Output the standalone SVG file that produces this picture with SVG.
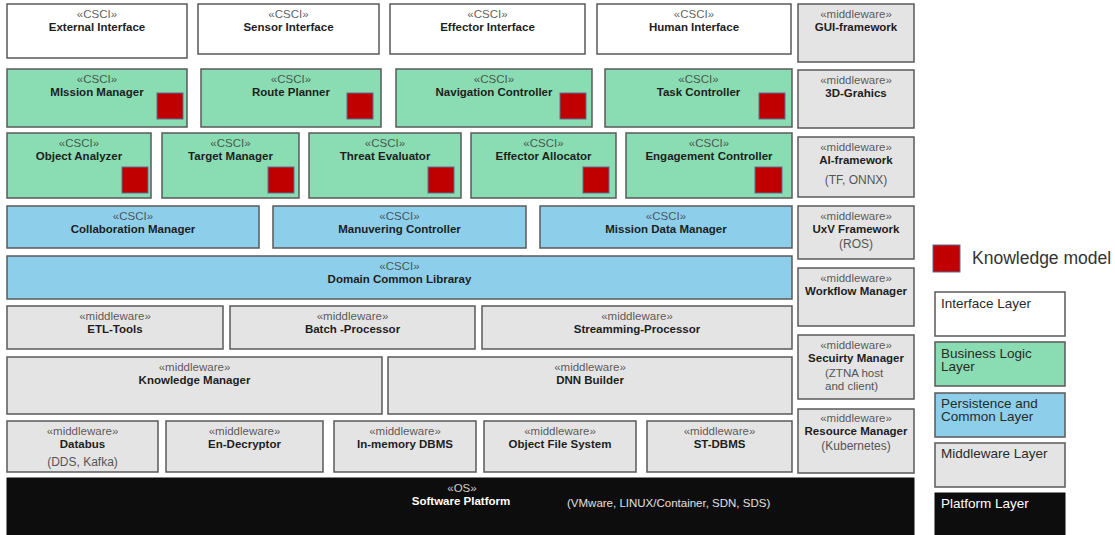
<svg xmlns="http://www.w3.org/2000/svg" width="1115" height="535" viewBox="0 0 1115 535">
  <style>
    .box{stroke:#595959;stroke-width:1.5}
    .ui{fill:#ffffff}
    .bl{fill:#8adcb2}
    .pc{fill:#8dcfeb}
    .mw{fill:#e5e4e4}
    .pf{fill:#0d0d0d;stroke:#0d0d0d}
    .km{fill:#c00000;stroke:#5b6f94;stroke-width:1}
    text{font-family:"Liberation Sans",Arial,Helvetica,sans-serif;font-size:11.5px;text-anchor:middle}
    .st{fill:#333333;fill-opacity:.8}
    .nm{font-weight:bold;fill:#1e1e1e}
    .sub{fill:#555555;font-size:12px}
    .lg{font-size:13.5px;text-anchor:start;fill:#2a2a2a}
  </style>

  <rect width="1115" height="535" fill="#ffffff"/>

  <!-- Interface layer -->
  <g id="external-interface"><rect class="box ui" x="7" y="4" width="180" height="54"/><text class="st" x="97" y="17.5">«CSCI»</text><text class="nm" x="97" y="30.5">External Interface</text></g>
  <g id="sensor-interface"><rect class="box ui" x="198" y="4" width="181" height="50"/><text class="st" x="288.5" y="17.5">«CSCI»</text><text class="nm" x="288.5" y="30.5">Sensor Interface</text></g>
  <g id="effector-interface"><rect class="box ui" x="390" y="4" width="195" height="50"/><text class="st" x="487.5" y="17.5">«CSCI»</text><text class="nm" x="487.5" y="30.5">Effector Interface</text></g>
  <g id="human-interface"><rect class="box ui" x="597" y="4" width="194" height="50"/><text class="st" x="694" y="17.5">«CSCI»</text><text class="nm" x="694" y="30.5">Human Interface</text></g>

  <!-- Business logic layer, upper row -->
  <g id="mission-manager"><rect class="box bl" x="7" y="69" width="180" height="58"/><text class="st" x="97" y="82.5">«CSCI»</text><text class="nm" x="97" y="95.5">MIssion Manager</text><rect class="km" x="157" y="93" width="26" height="26"/></g>
  <g id="route-planner"><rect class="box bl" x="201" y="69" width="180" height="58"/><text class="st" x="291" y="82.5">«CSCI»</text><text class="nm" x="291" y="95.5">Route Planner</text><rect class="km" x="347" y="93" width="26" height="26"/></g>
  <g id="navigation-controller"><rect class="box bl" x="396" y="69" width="196" height="58"/><text class="st" x="494" y="82.5">«CSCI»</text><text class="nm" x="494" y="95.5">Navigation Controller</text><rect class="km" x="560" y="93" width="26" height="26"/></g>
  <g id="task-controller"><rect class="box bl" x="605" y="69" width="187" height="58"/><text class="st" x="698.5" y="82.5">«CSCI»</text><text class="nm" x="698.5" y="95.5">Task Controller</text><rect class="km" x="759" y="93" width="26" height="26"/></g>

  <!-- Business logic layer, lower row -->
  <g id="object-analyzer"><rect class="box bl" x="7" y="133" width="144" height="65"/><text class="st" x="79" y="146.5">«CSCI»</text><text class="nm" x="79" y="159.5">Object Analyzer</text><rect class="km" x="122" y="167" width="26" height="26"/></g>
  <g id="target-manager"><rect class="box bl" x="162" y="133" width="137" height="65"/><text class="st" x="230.5" y="146.5">«CSCI»</text><text class="nm" x="230.5" y="159.5">Target Manager</text><rect class="km" x="268" y="167" width="26" height="26"/></g>
  <g id="threat-evaluator"><rect class="box bl" x="309" y="133" width="152" height="65"/><text class="st" x="385" y="146.5">«CSCI»</text><text class="nm" x="385" y="159.5">Threat Evaluator</text><rect class="km" x="428" y="167" width="26" height="26"/></g>
  <g id="effector-allocator"><rect class="box bl" x="471" y="133" width="145" height="65"/><text class="st" x="543.5" y="146.5">«CSCI»</text><text class="nm" x="543.5" y="159.5">Effector Allocator</text><rect class="km" x="583" y="167" width="26" height="26"/></g>
  <g id="engagement-controller"><rect class="box bl" x="626" y="133" width="166" height="65"/><text class="st" x="709" y="146.5">«CSCI»</text><text class="nm" x="709" y="159.5">Engagement Controller</text><rect class="km" x="755" y="167" width="27" height="26"/></g>

  <!-- Persistence and common layer -->
  <g id="collaboration-manager"><rect class="box pc" x="7" y="206" width="252" height="42"/><text class="st" x="133" y="219.5">«CSCI»</text><text class="nm" x="133" y="232.5">Collaboration Manager</text></g>
  <g id="manuvering-controller"><rect class="box pc" x="273" y="206" width="253" height="42"/><text class="st" x="399.5" y="219.5">«CSCI»</text><text class="nm" x="399.5" y="232.5">Manuvering Controller</text></g>
  <g id="mission-data-manager"><rect class="box pc" x="540" y="206" width="252" height="42"/><text class="st" x="666" y="219.5">«CSCI»</text><text class="nm" x="666" y="232.5">Mission Data Manager</text></g>
  <g id="domain-common-library"><rect class="box pc" x="7" y="256" width="785" height="43"/><text class="st" x="399.5" y="269.5">«CSCI»</text><text class="nm" x="399.5" y="282.5">Domain Common Libraray</text></g>

  <!-- Middleware layer -->
  <g id="etl-tools"><rect class="box mw" x="7" y="306" width="216" height="43"/><text class="st" x="115" y="319.5">«middleware»</text><text class="nm" x="115" y="332.5">ETL-Tools</text></g>
  <g id="batch-processor"><rect class="box mw" x="230" y="306" width="245" height="43"/><text class="st" x="352.5" y="319.5">«middleware»</text><text class="nm" x="352.5" y="332.5">Batch -Processor</text></g>
  <g id="streamming-processor"><rect class="box mw" x="482" y="306" width="310" height="43"/><text class="st" x="637" y="319.5">«middleware»</text><text class="nm" x="637" y="332.5">Streamming-Processor</text></g>
  <g id="knowledge-manager"><rect class="box mw" x="7" y="357" width="375" height="57"/><text class="st" x="194.5" y="370.5">«middleware»</text><text class="nm" x="194.5" y="383.5">Knowledge Manager</text></g>
  <g id="dnn-builder"><rect class="box mw" x="388" y="357" width="404" height="57"/><text class="st" x="590" y="370.5">«middleware»</text><text class="nm" x="590" y="383.5">DNN Builder</text></g>
  <g id="databus"><rect class="box mw" x="7" y="421" width="151" height="51"/><text class="st" x="82.5" y="434.5">«middleware»</text><text class="nm" x="82.5" y="447.5">Databus</text><text class="sub" x="82.5" y="465.5">(DDS, Kafka)</text></g>
  <g id="en-decryptor"><rect class="box mw" x="166" y="421" width="157" height="51"/><text class="st" x="244.5" y="434.5">«middleware»</text><text class="nm" x="244.5" y="447.5">En-Decryptor</text></g>
  <g id="in-memory-dbms"><rect class="box mw" x="334" y="421" width="142" height="51"/><text class="st" x="405" y="434.5">«middleware»</text><text class="nm" x="405" y="447.5">In-memory DBMS</text></g>
  <g id="object-file-system"><rect class="box mw" x="484" y="421" width="152" height="51"/><text class="st" x="560" y="434.5">«middleware»</text><text class="nm" x="560" y="447.5">Object File System</text></g>
  <g id="st-dbms"><rect class="box mw" x="647" y="421" width="145" height="51"/><text class="st" x="719.5" y="434.5">«middleware»</text><text class="nm" x="719.5" y="447.5">ST-DBMS</text></g>

  <!-- Cross-cutting middleware column -->
  <g id="gui-framework"><rect class="box mw" x="798" y="4" width="116" height="58"/><text class="st" x="856" y="17.5">«middleware»</text><text class="nm" x="856" y="30.5">GUI-framework</text></g>
  <g id="3d-graphics"><rect class="box mw" x="798" y="70" width="116" height="58"/><text class="st" x="856" y="83.5">«middleware»</text><text class="nm" x="856" y="96.5">3D-Grahics</text></g>
  <g id="ai-framework"><rect class="box mw" x="798" y="137" width="116" height="60"/><text class="st" x="856" y="150.5">«middleware»</text><text class="nm" x="856" y="163.5">AI-framework</text><text class="sub" x="856" y="184">(TF, ONNX)</text></g>
  <g id="uxv-framework"><rect class="box mw" x="798" y="206" width="116" height="53"/><text class="st" x="856" y="219.5">«middleware»</text><text class="nm" x="856" y="232.5">UxV Framework</text><text class="sub" x="856" y="248">(ROS)</text></g>
  <g id="workflow-manager"><rect class="box mw" x="798" y="268" width="116" height="58"/><text class="st" x="856" y="281.5">«middleware»</text><text class="nm" x="856" y="294.5">Workflow Manager</text></g>
  <g id="security-manager"><rect class="box mw" x="798" y="335" width="116" height="64"/><text class="st" x="856" y="348.5">«middleware»</text><text class="nm" x="856" y="361.5">Secuirty Manager</text><text class="sub" x="825" y="376.5" style="text-anchor:start;font-size:11.5px">(ZTNA host</text><text class="sub" x="825" y="389.5" style="text-anchor:start;font-size:11.5px">and client)</text></g>
  <g id="resource-manager"><rect class="box mw" x="798" y="409" width="116" height="64"/><text class="st" x="856" y="422">«middleware»</text><text class="nm" x="856" y="435">Resource Manager</text><text class="sub" x="856" y="450">(Kubernetes)</text></g>

  <!-- Platform layer -->
  <g id="software-platform"><rect class="pf" x="7" y="478" width="907" height="62"/><text x="462" y="492" fill="#cfcfcf">«OS»</text><text class="nm" x="461" y="505" style="fill:#ffffff">Software Platform</text><text x="567" y="507" fill="#e0e0e0" style="text-anchor:start">(VMware, LINUX/Container, SDN, SDS)</text></g>

  <!-- No connectors in this layered view -->
  <g id="connectors"/>

  <!-- Legend -->
  <g id="legend">
    <rect class="km" x="933" y="245" width="27" height="27"/>
    <text x="972" y="264" style="text-anchor:start;font-size:17.5px;fill:#333333">Knowledge model</text>
    <rect class="box ui" x="935" y="292" width="130" height="44"/>
    <text class="lg" x="941" y="308">Interface Layer</text>
    <rect class="box bl" x="935" y="342" width="130" height="44"/>
    <text class="lg" x="941" y="358">Business Logic</text>
    <text class="lg" x="941" y="371">Layer</text>
    <rect class="box pc" x="935" y="393" width="130" height="44"/>
    <text class="lg" x="941" y="408">Persistence and</text>
    <text class="lg" x="941" y="421">Common Layer</text>
    <rect class="box mw" x="935" y="443" width="130" height="44"/>
    <text class="lg" x="941" y="458">Middleware Layer</text>
    <rect class="pf" x="935" y="493" width="130" height="47"/>
    <text class="lg" x="941" y="508" style="fill:#ffffff">Platform Layer</text>
  </g>
</svg>
